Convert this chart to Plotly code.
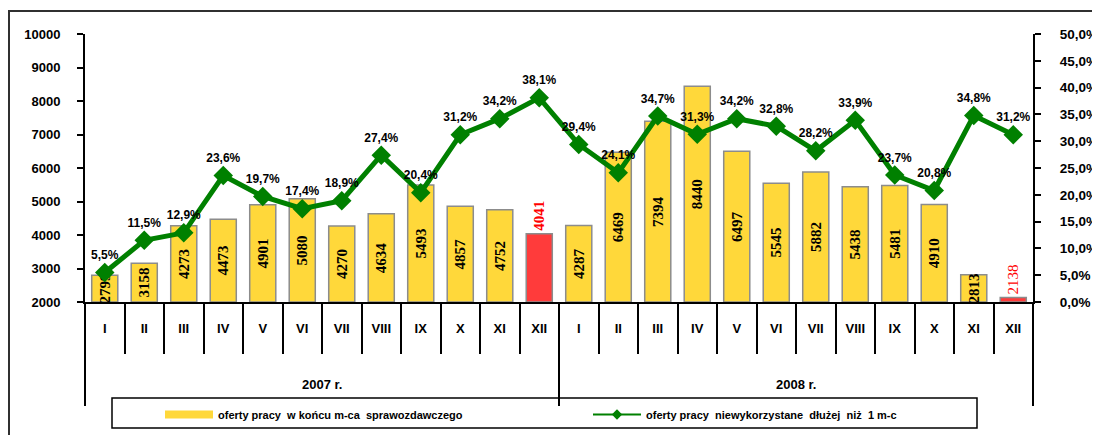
import plotly.graph_objects as go

# ---- data ----
years = ["2007 r.", "2008 r."]
months = ["I", "II", "III", "IV", "V", "VI", "VII", "VIII", "IX", "X", "XI", "XII"]
offers_2007 = [2799, 3158, 4273, 4473, 4901, 5080, 4270, 4634, 5493, 4857, 4752, 4041]
offers_2008 = [4287, 6469, 7394, 8440, 6497, 5545, 5882, 5438, 5481, 4910, 2813, 2138]
unused_2007 = [5.5, 11.5, 12.9, 23.6, 19.7, 17.4, 18.9, 27.4, 20.4, 31.2, 34.2, 38.1]
unused_2008 = [29.4, 24.1, 34.7, 31.3, 34.2, 32.8, 28.2, 33.9, 23.7, 20.8, 34.8, 31.2]
bar_name = "oferty pracy  w końcu m-ca  sprawozdawczego"
line_name = "oferty pracy  niewykorzystane  dłużej  niż  1 m-c"

# ---- derived ----
offers = offers_2007 + offers_2008
unused = [v / 100 for v in unused_2007 + unused_2008]
labels = months * len(years)
n = len(offers)
xs = list(range(n))
AXIS_MIN = 2000

YEL = "#FFD83A"
RED = "#FF3B3B"
GREEN = "#008000"
bar_colors = [RED if m == "XII" else YEL for m in labels]
text_pos = ["outside" if m == "XII" else "inside" for m in labels]
text_col = ["#FF0000" if m == "XII" else "#000000" for m in labels]
text_w = ["normal" if i == n - 1 else "bold" for i in range(n)]

SANS = "Liberation Sans"

fig = go.Figure()
fig.add_trace(go.Bar(
    x=xs, y=[v - AXIS_MIN for v in offers], base=AXIS_MIN,
    name=bar_name, showlegend=False,
    marker=dict(color=bar_colors, line=dict(color="#8C8C8C", width=1.5)),
    text=[str(v) for v in offers], textposition=text_pos, textangle=-90,
    insidetextanchor="middle", constraintext="none", cliponaxis=False,
    textfont=dict(family="Liberation Serif", size=15, color=text_col, weight=text_w),
    yaxis="y",
))
fig.add_trace(go.Scatter(
    x=xs, y=unused, name=line_name, yaxis="y2", mode="lines+markers+text",
    showlegend=False,
    line=dict(color=GREEN, width=5),
    marker=dict(symbol="diamond", size=15, color=GREEN),
    text=[f"{v*100:.1f}%".replace(".", ",") for v in unused],
    textposition="top center", cliponaxis=False,
    textfont=dict(family=SANS, size=12, color="#000000", weight="bold"),
))
# legend entries (drawn like the original legend swatches)
fig.add_trace(go.Scatter(x=[None], y=[None], name=bar_name, mode="lines",
                         line=dict(color=YEL, width=8), hoverinfo="skip"))
fig.add_trace(go.Scatter(x=[None], y=[None], name=line_name, mode="lines+markers",
                         line=dict(color=GREEN, width=2),
                         marker=dict(symbol="diamond", size=8, color=GREEN),
                         yaxis="y2", hoverinfo="skip"))
# invisible helpers so that the separator axes get drawn
for ax in ("x2", "x3"):
    fig.add_trace(go.Scatter(x=[xs[0]], y=[AXIS_MIN], xaxis=ax, yaxis="y", mode="markers",
                             marker=dict(opacity=0), showlegend=False, hoverinfo="skip"))

# page is shown with an 8px body margin; the figure fills the window to its right/bottom edge
WIN_W, WIN_H = 1100, 435
OFF = 8
W, H = WIN_W - OFF, WIN_H - OFF
PL, PR, PT, PB = 85, 1033, 34, 302  # plot area in window pixels
pw, ph = PR - PL, PB - PT
def px(xp):
    return (xp - PL) / pw
def py(yp):
    return (PB - yp) / ph

shapes = []
annotations = []
for i, yr in enumerate(years):
    cx = (i * len(months) + (i + 1) * len(months) - 1) / 2
    annotations.append(dict(x=cx, xref="x", y=py(384), yref="paper", text=yr,
                            showarrow=False, yanchor="middle",
                            font=dict(family=SANS, size=13, color="#000", weight="bold")))

# outer frame (partly off-canvas) and legend box
shapes.append(dict(type="rect", xref="paper", yref="paper",
                   x0=px(9), x1=px(1200), y0=py(500), y1=py(11),
                   line=dict(color="#303030", width=2), fillcolor="rgba(0,0,0,0)", layer="below"))
shapes.append(dict(type="rect", xref="paper", yref="paper",
                   x0=px(112), x1=px(977), y0=py(428), y1=py(398),
                   line=dict(color="#000", width=1.5), fillcolor="white", layer="below"))

xr = [-0.5, n - 0.5]
tickfont = dict(family=SANS, size=13, color="#000", weight="bold")
fig.update_layout(
    width=W, height=H,
    margin=dict(l=PL - OFF, r=W - (PR - OFF), t=PT - OFF, b=H - (PB - OFF), autoexpand=False),
    paper_bgcolor="white", plot_bgcolor="white",
    separators=", ",
    bargap=0.34,
    showlegend=True,
    legend=dict(orientation="h", xref="container", yref="container",
                x=(160 - OFF) / W, y=(H - (400 - OFF)) / H, xanchor="left", yanchor="top",
                bgcolor="rgba(0,0,0,0)", borderwidth=0, itemwidth=48,
                entrywidth=365, entrywidthmode="pixels",
                font=dict(family=SANS, size=11, color="#000", weight="bold")),
    xaxis=dict(range=xr, tickvals=xs, ticktext=labels, ticks="", showgrid=False,
               showline=True, linecolor="#000", linewidth=2, zeroline=False,
               tickfont=tickfont, ticklabelstandoff=13, automargin=False),
    xaxis2=dict(range=xr, overlaying="x", anchor="y", side="bottom",
                tickvals=[i - 0.5 for i in range(n + 1)], ticks="outside", ticklen=51,
                tickwidth=2, tickcolor="#000", showticklabels=False, showgrid=False,
                showline=False, zeroline=False, automargin=False),
    xaxis3=dict(range=xr, overlaying="x", anchor="y", side="bottom",
                tickvals=[i * len(months) - 0.5 for i in range(len(years) + 1)],
                ticks="outside", ticklen=103, tickwidth=2, tickcolor="#000",
                showticklabels=False, showgrid=False, showline=False, zeroline=False,
                automargin=False),
    yaxis=dict(range=[AXIS_MIN, 10000], dtick=1000, tickformat="d", ticks="outside", ticklen=6,
               tickwidth=2, tickcolor="#000", showline=True, linecolor="#000",
               linewidth=2, showgrid=False, zeroline=False, tickfont=tickfont,
               ticklabelstandoff=14, automargin=False),
    yaxis2=dict(range=[0, 0.5], dtick=0.05, tickformat=".1%", overlaying="y", side="right",
                ticks="outside", ticklen=6, tickwidth=2, tickcolor="#000", showline=True,
                linecolor="#000", linewidth=2, showgrid=False, zeroline=False,
                tickfont=dict(family=SANS, size=13.5, color="#000", weight="bold"),
                ticklabelstandoff=16, automargin=False),
    shapes=shapes,
    annotations=annotations,
)

fig.write_html("out.html")
